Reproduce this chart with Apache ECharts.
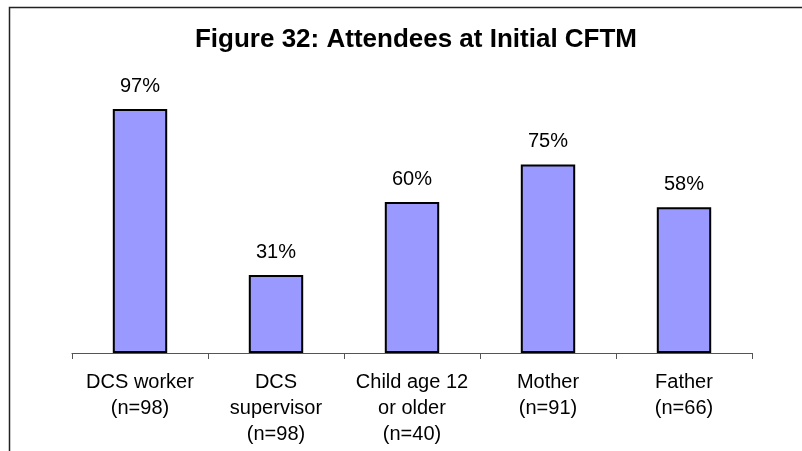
<!DOCTYPE html>
<html>
<head>
<meta charset="utf-8">
<style>
  html, body { margin: 0; padding: 0; background: #ffffff; }
  #chart { width: 802px; height: 451px; }
</style>
<script src="https://cdn.jsdelivr.net/npm/echarts@6/dist/echarts.min.js"></script>
</head>
<body>
<div id="chart"></div>
<script>
const titleText = 'Figure 32: Attendees at Initial CFTM';
const categories = [
  'DCS worker\n(n=98)',
  'DCS\nsupervisor\n(n=98)',
  'Child age 12\nor older\n(n=40)',
  'Mother\n(n=91)',
  'Father\n(n=66)'
];
const values = [97, 31, 60, 75, 58];

const FONT = '"Liberation Sans", Arial, sans-serif';
const chart = echarts.init(document.getElementById('chart'), null, { renderer: 'canvas' });
chart.setOption({
  animation: false,
  backgroundColor: '#ffffff',
  grid: { left: 72, right: 50, top: 101.5, bottom: 98, containLabel: false },
  xAxis: {
    type: 'category',
    data: categories,
    boundaryGap: true,
    axisLine: { show: true, lineStyle: { color: '#555555', width: 1 } },
    axisTick: { show: true, alignWithLabel: false, length: 6, inside: false, lineStyle: { color: '#555555', width: 1 } },
    axisLabel: { color: '#000000', fontFamily: FONT, fontSize: 20, lineHeight: 26, margin: 16, interval: 0 }
  },
  yAxis: {
    type: 'value',
    min: 0,
    max: 100,
    show: false,
    splitLine: { show: false }
  },
  series: [{
    type: 'bar',
    data: values,
    barWidth: '40%',
    itemStyle: { color: '#9999FF', borderColor: '#000000', borderWidth: 2 },
    label: {
      show: true,
      position: 'top',
      distance: 13,
      formatter: '{c}%',
      color: '#000000',
      fontFamily: FONT,
      fontSize: 20
    }
  }],
  graphic: [
    {
      type: 'polyline',
      shape: { points: [[9.5, 451], [9.5, 7.5], [802, 7.5]] },
      style: { stroke: '#222222', lineWidth: 1.5, fill: null },
      silent: true
    },
    {
      type: 'text',
      x: 416,
      y: 40,
      style: {
        text: titleText,
        fontFamily: FONT,
        fontSize: 26,
        fontWeight: 'bold',
        fill: '#000000',
        textAlign: 'center',
        textVerticalAlign: 'middle'
      }
    }
  ]
});
</script>
</body>
</html>
